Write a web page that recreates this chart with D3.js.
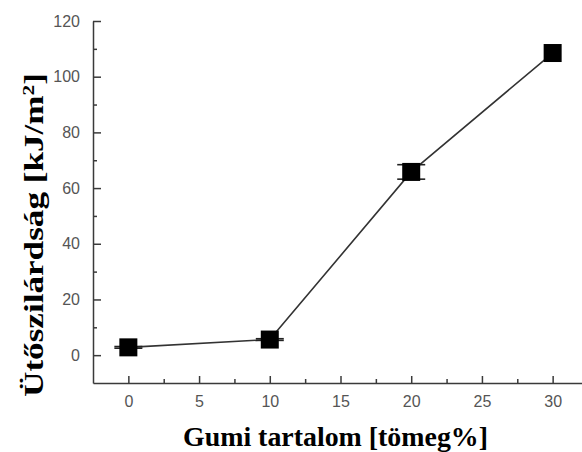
<!DOCTYPE html>
<html>
<head>
<meta charset="utf-8">
<script src="https://cdn.jsdelivr.net/npm/d3@7"></script>
<style>
  html, body { margin: 0; padding: 0; background: #fff; }
  svg { display: block; }
</style>
</head>
<body>
<svg id="chart" width="582" height="452"></svg>
<script>
// Impact strength vs. rubber content
const rubberContent = [0, 10, 20, 30];
const impactStrength = [2.8, 5.6, 65.8, 108.5];
const strengthError = [0.3, 0.3, 2.6, 0];

const xMajorTicks = [0, 5, 10, 15, 20, 25, 30];
const xMinorTicks = [2.5, 7.5, 12.5, 17.5, 22.5, 27.5];
const yMajorTicks = [0, 20, 40, 60, 80, 100, 120];
const yMinorTicks = [10, 30, 50, 70, 90, 110];

const xTitle = "Gumi tartalom [tömeg%]";
const yTitle = "Ütőszilárdság [kJ/m";

const svg = d3.select("#chart");

const x = d3.scaleLinear().domain([-2.5, 32.5]).range([93, 588]);
const y = d3.scaleLinear().domain([-10, 120]).range([383, 21]);

const axisColor = "#3a3a3a";
const labelColor = "#555";

// minor ticks (drawn first, no labels)
svg.append("g")
  .attr("transform", `translate(0,${y(-10)})`)
  .call(d3.axisBottom(x).tickValues(xMinorTicks).tickSize(-4).tickSizeOuter(0).tickFormat(""))
  .call(g => g.select(".domain").remove())
  .call(g => g.selectAll("line").attr("stroke", axisColor).attr("stroke-width", 1.5));

svg.append("g")
  .attr("transform", `translate(${x(-2.5)},0)`)
  .call(d3.axisLeft(y).tickValues(yMinorTicks).tickSize(-4).tickSizeOuter(0).tickFormat(""))
  .call(g => g.select(".domain").remove())
  .call(g => g.selectAll("line").attr("stroke", axisColor).attr("stroke-width", 1.5));

// major axes
const xAxis = svg.append("g")
  .attr("transform", `translate(0,${y(-10)})`)
  .call(d3.axisBottom(x).tickValues(xMajorTicks).tickSize(-7).tickSizeOuter(0).tickPadding(13));

const yAxis = svg.append("g")
  .attr("transform", `translate(${x(-2.5)},0)`)
  .call(d3.axisLeft(y).tickValues(yMajorTicks).tickSize(-8).tickSizeOuter(0).tickPadding(13));

[xAxis, yAxis].forEach(g => {
  g.select(".domain").attr("stroke", axisColor).attr("stroke-width", 1.5);
  g.selectAll(".tick line").attr("stroke", axisColor).attr("stroke-width", 1.5);
  g.selectAll(".tick text")
    .attr("fill", labelColor)
    .style("font-family", "Liberation Sans, Arial, sans-serif")
    .style("font-size", "16px");
});

// connecting line
const pts = rubberContent.map((d, i) => ({ x: d, y: impactStrength[i], e: strengthError[i] }));

svg.append("path")
  .datum(pts)
  .attr("fill", "none")
  .attr("stroke", "#333")
  .attr("stroke-width", 1.6)
  .attr("d", d3.line().x(d => x(d.x)).y(d => y(d.y)));

// error bars
const eb = svg.append("g").attr("stroke", "#222").attr("stroke-width", 1.6);
pts.filter(d => d.e > 0).forEach(d => {
  eb.append("line")
    .attr("x1", x(d.x)).attr("x2", x(d.x))
    .attr("y1", y(d.y - d.e)).attr("y2", y(d.y + d.e));
  [d.y - d.e, d.y + d.e].forEach(v => {
    eb.append("line")
      .attr("x1", x(d.x) - 14).attr("x2", x(d.x) + 14)
      .attr("y1", y(v)).attr("y2", y(v));
  });
});

// square markers
svg.append("g")
  .selectAll("rect")
  .data(pts)
  .join("rect")
  .attr("x", d => x(d.x) - 9)
  .attr("y", d => y(d.y) - 9)
  .attr("width", 18)
  .attr("height", 18)
  .attr("fill", "#000");

// axis titles
svg.append("text")
  .attr("x", 335.5)
  .attr("y", 446)
  .attr("text-anchor", "middle")
  .attr("textLength", 305)
  .attr("lengthAdjust", "spacingAndGlyphs")
  .style("font-family", "Liberation Serif, Times New Roman, serif")
  .style("font-weight", "bold")
  .style("font-size", "27px")
  .attr("fill", "#000")
  .text(xTitle);

const yt = svg.append("text")
  .attr("transform", "translate(43,235) rotate(-90)")
  .attr("text-anchor", "middle")
  .attr("textLength", 324)
  .attr("lengthAdjust", "spacingAndGlyphs")
  .style("font-family", "Liberation Serif, Times New Roman, serif")
  .style("font-weight", "bold")
  .style("font-size", "28px")
  .attr("fill", "#000");
yt.append("tspan").text(yTitle);
yt.append("tspan").attr("baseline-shift", "super").style("font-size", "17px").text("2");
yt.append("tspan").text("]");
</script>
</body>
</html>
